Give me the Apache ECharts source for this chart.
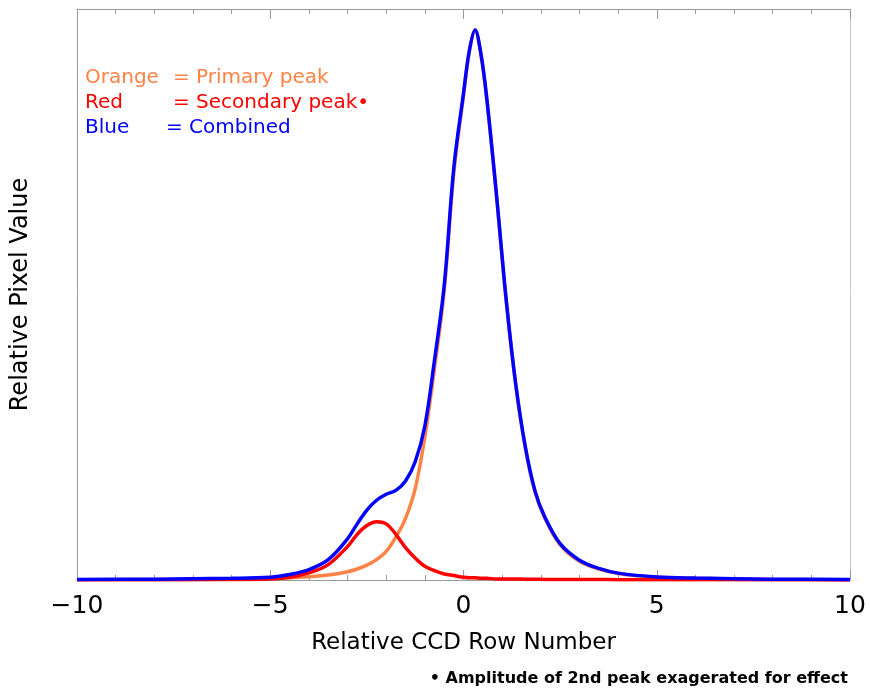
<!DOCTYPE html>
<html>
<head>
<meta charset="utf-8">
<script src="https://cdn.jsdelivr.net/npm/echarts@6/dist/echarts.min.js"></script>
<style>
html,body{margin:0;padding:0;background:#fff;}
#chart{width:870px;height:692px;}
</style>
</head>
<body>
<div id="chart"></div>
<script>
// Shared x grid (relative CCD row number)
var xGrid = [-10, -8, -6, -5, -4.5, -4, -3.5, -3, -2.75, -2.5, -2.25, -2, -1.75, -1.5, -1.25, -1, -0.75, -0.5, -0.25, 0, 0.15, 0.3, 0.45, 0.6, 0.85, 1.1, 1.35, 1.6, 1.85, 2.1, 2.5, 3, 3.5, 4, 5, 6, 8, 10];
// Primary peak (orange)
var primaryPeak = [0.0005, 0.001, 0.002, 0.003, 0.004, 0.006, 0.009, 0.015, 0.02, 0.027, 0.037, 0.052, 0.078, 0.112, 0.166, 0.26, 0.385, 0.525, 0.74, 0.88, 0.96, 1.0, 0.955, 0.875, 0.70, 0.51, 0.355, 0.24, 0.16, 0.113, 0.064, 0.034, 0.02, 0.012, 0.005, 0.003, 0.001, 0.0005];
// Secondary peak (red)
var secondaryPeak = [0.0003, 0.0005, 0.001, 0.002, 0.005, 0.013, 0.028, 0.061, 0.083, 0.099, 0.106, 0.102, 0.083, 0.059, 0.040, 0.025, 0.017, 0.011, 0.008, 0.005, 0.004, 0.004, 0.003, 0.003, 0.002, 0.002, 0.002, 0.0015, 0.0015, 0.001, 0.001, 0.001, 0.0008, 0.0006, 0.0005, 0.0004, 0.0003, 0.0002];
// Combined (blue)
var combined = [0.0008, 0.0015, 0.003, 0.005, 0.01, 0.019, 0.037, 0.075, 0.102, 0.127, 0.145, 0.156, 0.163, 0.18, 0.215, 0.28, 0.40, 0.535, 0.75, 0.885, 0.962, 1.0, 0.957, 0.877, 0.703, 0.513, 0.357, 0.242, 0.162, 0.115, 0.066, 0.036, 0.021, 0.0125, 0.0055, 0.0035, 0.0015, 0.001];
var xTicks = [-10, -5, 0, 5, 10];

function pairs(ys){ return xGrid.map(function(x,i){ return [x, ys[i]]; }); }

var FONT = 'DejaVu Sans';
var axisGray = '#9a9a9a';

var chart = echarts.init(document.getElementById('chart'), null, {renderer:'canvas'});
var tickCommon = {
  min: -10, max: 10, interval: 5, type: 'value',
  axisLine: {show: true, onZero: false, lineStyle: {color: axisGray, width: 1}},
  axisTick: {show: true, inside: true, length: 10, lineStyle: {color: axisGray}},
  minorTick: {show: true, splitNumber: 5, length: 5, lineStyle: {color: axisGray}},
  splitLine: {show: false}
};
chart.setOption({
  animation: false,
  backgroundColor: '#fff',
  grid: {left: 77, right: 20, top: 9, bottom: 112, containLabel: false},
  xAxis: [
    Object.assign({}, tickCommon, {
      position: 'bottom',
      axisLabel: {show: true, color: '#000', fontSize: 25, fontFamily: FONT, margin: 14,
        formatter: function(v){ return xTicks.indexOf(v) >= 0 ? String(v).replace('-', '\u2212') : ''; }},
      name: 'Relative CCD Row Number', nameLocation: 'middle', nameGap: 52,
      nameTextStyle: {color: '#000', fontSize: 23, fontFamily: FONT}
    }),
    Object.assign({}, tickCommon, {position: 'top', axisLabel: {show: false}})
  ],
  yAxis: [
    {type: 'value', min: 0, max: 1.038, position: 'left',
     axisLine: {show: true, onZero: false, lineStyle: {color: axisGray}}, axisTick: {show: false}, axisLabel: {show: false}, splitLine: {show: false},
     name: 'Relative Pixel Value', nameLocation: 'middle', nameGap: 44, nameRotate: 90,
     nameTextStyle: {color: '#000', fontSize: 24, fontFamily: FONT}},
    {type: 'value', min: 0, max: 1.038, position: 'right',
     axisLine: {show: true, onZero: false, lineStyle: {color: '#c8c8c8'}}, axisTick: {show: false}, axisLabel: {show: false}, splitLine: {show: false}}
  ],
  series: [
    {name: 'Primary peak', type: 'line', data: pairs(primaryPeak), showSymbol: false, smooth: 0.35,
     lineStyle: {color: '#FF8246', width: 3.5}, itemStyle: {color: '#FF8246'}, z: 2},
    {name: 'Secondary peak', type: 'line', data: pairs(secondaryPeak), showSymbol: false, smooth: 0.35,
     lineStyle: {color: '#FF0000', width: 3.5}, itemStyle: {color: '#FF0000'}, z: 3},
    {name: 'Combined', type: 'line', data: pairs(combined), showSymbol: false, smooth: 0.35,
     lineStyle: {color: '#0000FF', width: 3.5}, itemStyle: {color: '#0000FF'}, z: 4}
  ],
  graphic: [
    {type: 'text', left: 85, top: 68, style: {text: 'Orange', fill: '#FF8246', font: '20px "DejaVu Sans"'}},
    {type: 'text', left: 173, top: 68, style: {text: '= Primary peak', fill: '#FF8246', font: '20px "DejaVu Sans"'}},
    {type: 'text', left: 85, top: 93, style: {text: 'Red', fill: '#FF0000', font: '20px "DejaVu Sans"'}},
    {type: 'text', left: 173, top: 93, style: {text: '= Secondary peak\u2022', fill: '#FF0000', font: '20px "DejaVu Sans"'}},
    {type: 'text', left: 85, top: 118, style: {text: 'Blue', fill: '#0000FF', font: '20px "DejaVu Sans"'}},
    {type: 'text', left: 166, top: 118, style: {text: '= Combined', fill: '#0000FF', font: '20px "DejaVu Sans"'}},
    {type: 'text', right: 22, top: 671, style: {text: '\u2022 Amplitude of 2nd peak exagerated for effect', fill: '#000', font: 'bold 16px "DejaVu Sans"'}}
  ]
});
</script>
</body>
</html>
